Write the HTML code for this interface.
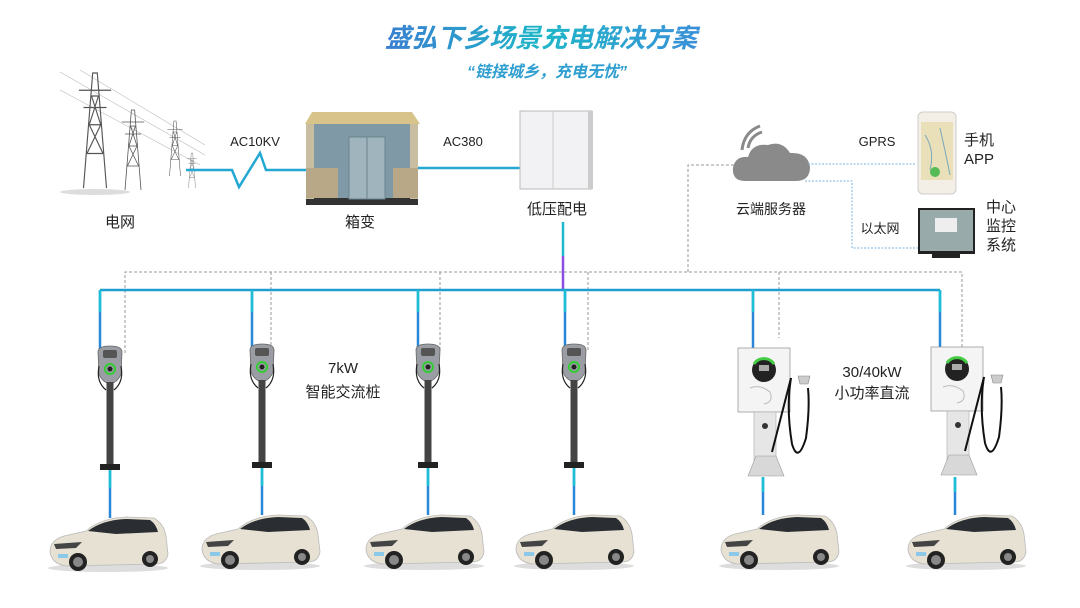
<!DOCTYPE html>
<html><head><meta charset="utf-8"><style>
html,body{margin:0;padding:0;background:#fff;width:1080px;height:608px;overflow:hidden}
svg{display:block}
text{font-family:"Liberation Sans","Noto Sans CJK SC",sans-serif;fill:#222}
</style></head><body>
<svg width="1080" height="608" viewBox="0 0 1080 608" xmlns="http://www.w3.org/2000/svg">
<defs>
<linearGradient id="tg" x1="0" x2="1"><stop offset="0" stop-color="#3a7fd0"/><stop offset="0.5" stop-color="#1fb6c8"/><stop offset="1" stop-color="#3a8fd8"/></linearGradient>
<g id="tower" stroke="#555" stroke-width="1" fill="none">
<path d="M-10 0 L-2 -100 L2 -100 L10 0 M-7 -30 L7 -30 M-5 -55 L5 -55 M-3 -80 L3 -80 M-7 -30 L5 -55 M7 -30 L-5 -55 M-5 -55 L3 -80 M5 -55 L-3 -80 M-14 -85 L14 -85 M-10 -70 L10 -70"/>
</g>
<g id="car">
<ellipse cx="62" cy="54" rx="60" ry="4" fill="#ddd"/>
<path d="M4 38 Q4 26 18 22 L40 17 Q55 4 80 3 L108 4 Q118 10 120 22 L122 40 Q120 50 110 50 L20 52 Q6 50 4 38Z" fill="#e6e1d2" stroke="#bbb" stroke-width="0.8"/>
<path d="M42 17 Q56 6 80 5 L104 6 Q110 10 112 18 L70 20Z" fill="#2a2e33"/>
<path d="M8 30 L36 28 L30 34 L10 35Z" fill="#444"/>
<circle cx="32" cy="48" r="9" fill="#222"/><circle cx="32" cy="48" r="5" fill="#888"/>
<circle cx="104" cy="45" r="8" fill="#222"/><circle cx="104" cy="45" r="4" fill="#888"/>
<rect x="12" y="40" width="10" height="4" fill="#8cc8e8"/>
</g>
<g id="ac">
<path d="M-12 0 Q-12 -6 0 -6 Q12 -6 12 0 L11 22 Q8 30 0 32 Q-8 30 -11 22Z" fill="#9a9ea4" stroke="#666" stroke-width="0.8"/>
<rect x="-7" y="-2" width="14" height="8" rx="2" fill="#555"/>
<circle cx="0" cy="17" r="5" fill="none" stroke="#3c3" stroke-width="2"/>
<circle cx="0" cy="17" r="2.5" fill="#222"/>
<path d="M-11 14 Q-14 30 -4 38 M11 14 Q14 30 4 38" stroke="#222" fill="none" stroke-width="1.2"/>
<rect x="-3.5" y="30" width="7" height="84" fill="#444"/>
<rect x="-10" y="112" width="20" height="6" fill="#222"/>
</g>
<g id="dc">
<rect x="-26" y="0" width="52" height="64" fill="#f4f4f4" stroke="#999" stroke-width="0.8"/>
<circle cx="0" cy="22" r="12" fill="#222"/>
<path d="M-10 16 A12 12 0 0 1 10 16" stroke="#4c4" stroke-width="3" fill="none"/>
<rect x="-5" y="17" width="10" height="6" fill="#aaa"/>
<path d="M-14 40 Q-4 36 6 44 Q10 54 0 56" stroke="#bbb" fill="none"/>
<rect x="-10" y="64" width="22" height="50" fill="#e6e6e6" stroke="#aaa" stroke-width="0.6"/>
<circle cx="1" cy="78" r="3" fill="#333"/>
<path d="M-16 128 L-8 108 L12 108 L20 128Z" fill="#d8d8d8" stroke="#999" stroke-width="0.6"/>
<path d="M27 30 Q22 60 28 96 Q34 116 42 90 Q46 60 44 40" stroke="#111" fill="none" stroke-width="2"/>
<path d="M27 30 Q14 80 8 104" stroke="#111" fill="none" stroke-width="2"/>
<path d="M34 28 L46 28 L44 36 L36 36Z" fill="#ccc" stroke="#888" stroke-width="0.6"/>
</g>
</defs>

<text x="541" y="47" text-anchor="middle" font-size="26" font-weight="bold" font-style="italic" style="fill:url(#tg)">盛弘下乡场景充电解决方案</text>
<text x="547" y="77" text-anchor="middle" font-size="16" font-weight="bold" font-style="italic" style="fill:#2e9ed0">“链接城乡，充电无忧”</text>

<!-- towers -->
<g stroke="#bbb" stroke-width="0.6"><line x1="60" y1="72" x2="205" y2="155"/><line x1="80" y1="70" x2="205" y2="145"/><line x1="60" y1="90" x2="200" y2="165"/></g>
<ellipse cx="95" cy="192" rx="35" ry="3" fill="#ddd"/>
<use href="#tower" transform="translate(95 188) scale(1.15)"/>
<use href="#tower" transform="translate(133 190) scale(0.8)"/>
<use href="#tower" transform="translate(175 176) scale(0.55)"/>
<use href="#tower" transform="translate(192 188) scale(0.35)"/>
<text x="120" y="227" text-anchor="middle" font-size="15">电网</text>

<polyline points="186,170 232,170 239,187 260,153 266,170 308,170" fill="none" stroke="#22a8d2" stroke-width="2.5"/>
<text x="255" y="146" text-anchor="middle" font-size="13">AC10KV</text>

<!-- transformer -->
<path d="M305 124 L312 112 L412 112 L420 124Z" fill="#d8c48a"/>
<rect x="306" y="124" width="112" height="75" fill="#7f9aa6"/>
<rect x="306" y="198" width="112" height="7" fill="#333"/>
<rect x="306" y="124" width="8" height="75" fill="#c9bda1"/><rect x="410" y="124" width="8" height="75" fill="#c9bda1"/>
<rect x="306" y="168" width="32" height="30" fill="#b8a888"/><rect x="393" y="168" width="25" height="30" fill="#b8a888"/>
<rect x="349" y="137" width="36" height="62" fill="#9fb4bd" stroke="#6b848f"/>
<line x1="367" y1="137" x2="367" y2="199" stroke="#6b848f"/>
<text x="360" y="227" text-anchor="middle" font-size="15">箱变</text>

<line x1="418" y1="168" x2="520" y2="168" stroke="#22a8d2" stroke-width="2.5"/>
<text x="463" y="146" text-anchor="middle" font-size="13">AC380</text>

<!-- cabinet -->
<rect x="520" y="111" width="72" height="78" fill="#f2f2f4" stroke="#bbb"/>
<line x1="553" y1="111" x2="553" y2="189" stroke="#ccc"/>
<rect x="588" y="111" width="5" height="78" fill="#ccc"/>
<text x="557" y="214" text-anchor="middle" font-size="15">低压配电</text>
<line x1="563" y1="222" x2="563" y2="256" stroke="#1cb8d0" stroke-width="2.5"/>
<line x1="563" y1="256" x2="563" y2="290" stroke="#8a4fe0" stroke-width="2.5"/>

<!-- dashed control lines -->
<g fill="none" stroke="#999" stroke-width="1" stroke-dasharray="3,2">
<polyline points="125,353 125,272 962,272 962,355"/>
<line x1="271" y1="272" x2="271" y2="352"/>
<line x1="440" y1="272" x2="440" y2="352"/>
<line x1="588" y1="272" x2="588" y2="352"/>
<line x1="779" y1="272" x2="779" y2="338"/>
<polyline points="688,272 688,165 742,165"/>
</g>

<!-- bus -->
<line x1="100" y1="290" x2="940" y2="290" stroke="#1e9fd0" stroke-width="2.5"/>
<g stroke="#2a86d6" stroke-width="2.5">
<line x1="100" y1="290" x2="100" y2="350"/>
<line x1="252" y1="290" x2="252" y2="350"/>
<line x1="418" y1="290" x2="418" y2="350"/>
<line x1="565" y1="290" x2="565" y2="350"/>
<line x1="753" y1="290" x2="753" y2="350"/>
<line x1="940" y1="290" x2="940" y2="348"/>
<line x1="110" y1="470" x2="110" y2="518"/>
<line x1="262" y1="468" x2="262" y2="515"/>
<line x1="428" y1="468" x2="428" y2="515"/>
<line x1="574" y1="468" x2="574" y2="515"/>
<line x1="763" y1="477" x2="763" y2="515"/>
<line x1="955" y1="477" x2="955" y2="515"/>
</g>
<g stroke="#1cc0d4" stroke-width="2.5">
<line x1="100" y1="290" x2="100" y2="312"/>
<line x1="252" y1="290" x2="252" y2="312"/>
<line x1="418" y1="290" x2="418" y2="312"/>
<line x1="565" y1="290" x2="565" y2="312"/>
<line x1="753" y1="290" x2="753" y2="312"/>
<line x1="940" y1="290" x2="940" y2="312"/>
<line x1="110" y1="470" x2="110" y2="488"/>
<line x1="262" y1="468" x2="262" y2="486"/>
<line x1="428" y1="468" x2="428" y2="486"/>
<line x1="574" y1="468" x2="574" y2="486"/>
<line x1="763" y1="477" x2="763" y2="492"/>
<line x1="955" y1="477" x2="955" y2="492"/>
</g>

<!-- chargers -->
<use href="#ac" x="110" y="352"/>
<use href="#ac" x="262" y="350"/>
<use href="#ac" x="428" y="350"/>
<use href="#ac" x="574" y="350"/>
<use href="#dc" x="764" y="348"/>
<use href="#dc" x="957" y="347"/>
<text x="343" y="373" text-anchor="middle" font-size="15">7kW</text>
<text x="343" y="397" text-anchor="middle" font-size="15">智能交流桩</text>
<text x="872" y="377" text-anchor="middle" font-size="15">30/40kW</text>
<text x="872" y="398" text-anchor="middle" font-size="15">小功率直流</text>

<!-- cars -->
<use href="#car" x="46" y="514"/>
<use href="#car" x="198" y="512"/>
<use href="#car" x="362" y="512"/>
<use href="#car" x="512" y="512"/>
<use href="#car" x="717" y="512"/>
<use href="#car" x="904" y="512"/>

<!-- cloud -->
<path d="M745 181 Q732 181 733 168 Q735 156 748 157 Q752 143 768 145 Q782 140 790 153 Q808 152 810 167 Q810 181 796 181Z" fill="#8a8a8a"/>
<path d="M748 148 Q750 136 762 132 M742 150 Q744 132 760 126" stroke="#8a8a8a" stroke-width="3" fill="none"/>
<text x="771" y="214" text-anchor="middle" font-size="14">云端服务器</text>
<g fill="none" stroke="#7bb3e0" stroke-width="1" stroke-dasharray="2,1.5">
<line x1="808" y1="164" x2="916" y2="164"/>
<polyline points="805,181 852,181 852,248 918,248"/>
</g>
<text x="877" y="146" text-anchor="middle" font-size="13">GPRS</text>
<text x="880" y="233" text-anchor="middle" font-size="13">以太网</text>

<!-- phone -->
<rect x="918" y="112" width="38" height="82" rx="5" fill="#f4efe6" stroke="#ccc"/>
<rect x="921" y="122" width="32" height="58" fill="#e9dfb8"/>
<path d="M925 135 Q935 150 930 170 M940 128 Q945 150 950 175" stroke="#7ab" fill="none"/>
<circle cx="935" cy="172" r="5" fill="#5b5"/>
<text x="964" y="145" font-size="15">手机</text>
<text x="964" y="164" font-size="15">APP</text>
<!-- monitor -->
<rect x="918" y="208" width="57" height="46" fill="#222"/>
<rect x="920" y="210" width="53" height="41" fill="#9aa"/>
<rect x="935" y="218" width="22" height="14" fill="#eee"/>
<rect x="932" y="254" width="28" height="4" fill="#222"/>
<text x="986" y="212" font-size="15">中心</text>
<text x="986" y="231" font-size="15">监控</text>
<text x="986" y="250" font-size="15">系统</text>
</svg>
</body></html>
